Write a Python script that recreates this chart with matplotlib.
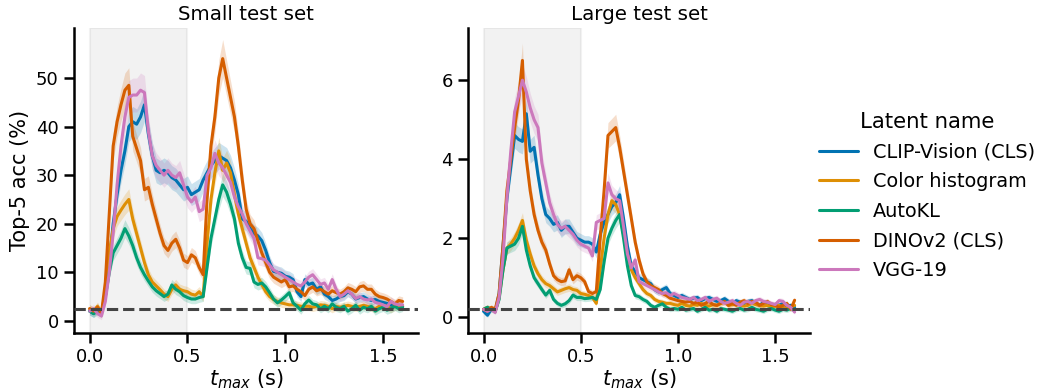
import numpy as np
import matplotlib
import matplotlib.pyplot as plt
import seaborn as sns

matplotlib.use('Agg')

# t_max grid (s)
t = np.round(np.arange(0, 1.601, 0.02), 2)

latent_names = ['CLIP-Vision (CLS)', 'Color histogram', 'AutoKL', 'DINOv2 (CLS)', 'VGG-19']
colors = ['#0173B2', '#DE8F05', '#029E73', '#D55E00', '#CC78BC']

# Small test set, top-5 accuracy (%)
clip_small = [2.0, 1.5, 2.5, 1.8, 5, 12, 20, 26, 31, 35, 40, 41, 40.5, 42, 44.5, 38.5, 34, 31, 30.5, 31,
              30.5, 29.5, 29, 28, 27, 27.5, 26, 26.5, 27, 29, 30.5, 32, 33, 34, 33.5, 33, 31.5, 29, 26, 21,
              20.5, 19, 18, 17.5, 16.5, 14.5, 12, 10.2, 10, 9.8, 9.2, 9, 8.5, 6, 5, 8.5, 7.5, 7.8, 6.5, 7,
              5.5, 5, 4.2, 4.5, 5, 5.2, 6, 5.5, 4.5, 4.8, 5, 4.5, 4.2, 4.4, 4, 3.8, 3.6, 3.2, 3, 3.2, 3]
colorhist_small = [2.5, 2, 3, 1.5, 6, 14, 19, 21.5, 22.8, 24, 25, 21, 18, 15, 12, 9.5, 8, 7.2, 6.4, 5.5,
                   5, 6.5, 7.4, 6.5, 6.2, 6, 5.5, 5.3, 6, 5, 16, 25, 30.5, 35, 31, 32.5, 30.5, 26, 22, 19,
                   16, 13, 11, 9, 7.5, 6, 5, 4.4, 4, 3.7, 3.5, 3.3, 3.3, 3.2, 3, 3, 3, 2.8, 3, 3.3,
                   3.2, 3, 2.5, 3, 2.8, 3, 3.2, 3, 2.8, 3, 3.2, 3, 2.8, 2.5, 3, 3.2, 3, 2.5, 3, 3, 3]
autokl_small = [2, 1.5, 2, 1.5, 5, 10, 14, 15.5, 17, 19, 17.5, 15.5, 13, 11, 9.5, 8.2, 7, 6.2, 5.6, 5,
                5.5, 7.4, 6.5, 6, 5.2, 4.8, 4.5, 4.5, 4.8, 5, 11, 17, 21, 25, 28, 26.5, 24, 21, 16, 13,
                11, 10.8, 8, 7.5, 7.8, 7, 5.8, 4.5, 3.7, 4.3, 5, 5.8, 3.7, 3, 2.2, 3.5, 4.3, 3.5, 3.3, 2.5,
                3, 2.5, 3.5, 2.8, 2.5, 3, 2, 2.5, 3.2, 2.2, 2.8, 2.5, 3, 2, 2.5, 2.8, 2.2, 2.5, 3, 2.5, 2.8]
dino_small = [2.5, 2.0, 2.8, 1.5, 8, 22, 36, 41, 44.5, 47.5, 48.5, 38, 35.5, 33, 27, 27.5, 24, 21, 18, 15.5,
              14.5, 16, 16.8, 15, 12.5, 12, 13.6, 13, 11, 9.5, 25, 36, 42, 50, 54, 50, 46, 42, 36, 29,
              23, 20, 19, 16.5, 14, 12, 10, 9, 8.5, 8, 8.5, 7, 7.2, 6.5, 6, 5.2, 6.5, 7, 6.2, 6.5,
              6, 5.5, 6.2, 5.8, 5.5, 6, 6.8, 6.5, 6, 7, 7.2, 6.5, 6.5, 5.5, 5, 4.8, 4.5, 4, 3.5, 4.2, 4]
vgg_small = [2, 2.5, 1.5, 1, 4, 10, 18, 28, 36, 42, 46, 46.5, 46.5, 47.5, 47, 39, 34, 32, 31, 30,
             31, 30, 29.5, 30.5, 28, 25.5, 24.5, 25.5, 22.5, 23, 30, 31.5, 34.5, 32.5, 31.5, 30, 28.5, 25.5, 23.5, 22,
             20, 18.5, 17, 13, 12.8, 12.5, 11.5, 10.5, 10, 9.5, 9, 8.5, 8, 7.5, 7.2, 8, 9, 9.5, 8.5, 7.5,
             7.8, 6.5, 8.5, 6.5, 5, 5.5, 6.2, 5.5, 4.6, 5, 4.5, 4.3, 4.5, 3.8, 3.6, 3.3, 2.9, 4, 3.5, 3.3, 3.3]

# Large test set, top-5 accuracy (%)
clip_large = [0.15, 0.05, 0.2, 0.15, 0.6, 1.8, 3.0, 3.8, 4.6, 4.5, 4.45, 5.15, 4.2, 4.3, 3.6, 3.0, 2.6, 2.5, 2.35, 2.4,
              2.2, 2.3, 2.3, 2.15, 2.0, 1.95, 1.9, 1.9, 1.85, 1.65, 2.1, 2.4, 2.6, 2.8, 2.9, 3.1, 2.5, 1.8, 1.3, 1.15,
              1.0, 0.95, 0.9, 0.85, 0.7, 0.64, 0.7, 0.75, 0.6, 0.55, 0.5, 0.55, 0.5, 0.45, 0.48, 0.5, 0.42, 0.47, 0.5, 0.45,
              0.4, 0.42, 0.47, 0.4, 0.35, 0.42, 0.38, 0.35, 0.4, 0.42, 0.35, 0.3, 0.38, 0.35, 0.3, 0.32, 0.3, 0.35, 0.28, 0.3, 0.25]
colorhist_large = [0.2, 0.25, 0.2, 0.15, 0.5, 1.2, 1.75, 1.85, 2.0, 2.2, 2.45, 1.95, 1.6, 1.3, 1.1, 0.95, 0.85, 0.8, 0.72, 0.64,
                   0.68, 0.72, 0.75, 0.7, 0.68, 0.6, 0.58, 0.55, 0.5, 0.35, 1.2, 2.0, 2.6, 2.95, 2.85, 2.6, 2.1, 1.6, 1.2, 1.0,
                   0.85, 0.7, 0.6, 0.55, 0.45, 0.4, 0.38, 0.35, 0.35, 0.32, 0.3, 0.35, 0.3, 0.28, 0.32, 0.3, 0.35, 0.3, 0.28, 0.32,
                   0.3, 0.35, 0.38, 0.3, 0.32, 0.35, 0.3, 0.28, 0.3, 0.35, 0.32, 0.3, 0.28, 0.3, 0.25, 0.28, 0.3, 0.25, 0.22, 0.25, 0.3]
autokl_large = [0.2, 0.25, 0.2, 0.15, 0.45, 1.2, 1.75, 1.8, 1.85, 2.0, 2.3, 1.7, 1.3, 1.0, 0.85, 0.7, 0.56, 0.68, 0.45, 0.35,
                0.3, 0.34, 0.42, 0.56, 0.5, 0.5, 0.47, 0.48, 0.5, 0.45, 0.7, 1.4, 2.0, 2.25, 2.45, 2.6, 2.0, 1.3, 0.8, 0.55,
                0.52, 0.45, 0.4, 0.3, 0.25, 0.3, 0.34, 0.25, 0.2, 0.22, 0.2, 0.25, 0.18, 0.2, 0.22, 0.15, 0.2, 0.25, 0.18, 0.2,
                0.15, 0.22, 0.2, 0.18, 0.15, 0.2, 0.22, 0.18, 0.2, 0.25, 0.2, 0.18, 0.15, 0.2, 0.22, 0.18, 0.15, 0.2, 0.18, 0.22, 0.2]
dino_large = [0.2, 0.15, 0.25, 0.2, 0.6, 1.8, 3.2, 4.0, 4.8, 5.5, 6.5, 4.0, 3.2, 2.6, 2.2, 1.9, 1.7, 1.35, 1.05, 0.95,
              0.9, 0.92, 1.2, 0.95, 1.05, 1.0, 0.9, 0.65, 0.6, 0.65, 2.0, 3.2, 4.6, 4.7, 4.8, 4.3, 3.7, 3.1, 2.5, 1.9,
              1.45, 1.1, 0.9, 0.8, 0.75, 0.7, 0.6, 0.55, 0.48, 0.45, 0.42, 0.4, 0.38, 0.4, 0.35, 0.38, 0.3, 0.35, 0.4, 0.32,
              0.3, 0.35, 0.4, 0.3, 0.35, 0.3, 0.38, 0.42, 0.35, 0.4, 0.38, 0.3, 0.35, 0.4, 0.32, 0.3, 0.25, 0.3, 0.35, 0.2, 0.43]
vgg_large = [0.2, 0.15, 0.2, 0.12, 0.5, 1.5, 3.0, 4.2, 5.2, 5.6, 6.0, 5.7, 5.3, 5.0, 4.8, 3.9, 3.4, 2.9, 2.6, 2.35,
             2.25, 2.3, 2.2, 2.1, 1.95, 1.85, 1.8, 1.75, 1.55, 2.4, 2.45, 2.5, 3.4, 3.1, 3.0, 2.95, 2.3, 1.6, 1.25, 1.45,
             0.9, 0.85, 0.8, 0.75, 0.7, 0.64, 0.6, 0.62, 0.55, 0.6, 0.55, 0.5, 0.48, 0.45, 0.5, 0.42, 0.45, 0.5, 0.4, 0.45,
             0.48, 0.4, 0.35, 0.38, 0.42, 0.35, 0.3, 0.38, 0.4, 0.35, 0.42, 0.45, 0.4, 0.38, 0.35, 0.32, 0.42, 0.4, 0.3, 0.25, 0.13]

small_set = [clip_small, colorhist_small, autokl_small, dino_small, vgg_small]
large_set = [clip_large, colorhist_large, autokl_large, dino_large, vgg_large]

chance_small = 2.5
chance_large = 0.21


def draw_panel(ax, series, chance, title, ci_base, ci_rel):
    ax.axvspan(0, 0.5, color='grey', alpha=0.1, zorder=0)
    for vals, name, c in zip(series, latent_names, colors):
        vals = np.asarray(vals)
        err = ci_base + ci_rel * vals  # rough CI width
        ax.fill_between(t, vals - err, vals + err, color=c, alpha=0.2, linewidth=0)
        ax.plot(t, vals, color=c, label=name)
    ax.axhline(chance, ls='--', color='#444444', zorder=5)
    ax.set_title(title, fontsize=14.3)
    ax.set_xlabel(r'$t_{max}$ (s)', fontsize=15, labelpad=1)
    ax.set_xlim(-0.08, 1.68)
    ax.set_xticks([0.0, 0.5, 1.0, 1.5])
    sns.despine(ax=ax)


sns.set_theme(context='talk', style='ticks')
plt.rcParams['font.family'] = ['DejaVu Sans']
for key in ['text.color', 'axes.labelcolor', 'xtick.color', 'ytick.color', 'axes.edgecolor']:
    plt.rcParams[key] = 'black'
plt.rcParams.update({
    'xtick.labelsize': 13, 'ytick.labelsize': 13,
    'lines.linewidth': 2.2, 'axes.linewidth': 1.8,
    'xtick.major.width': 1.8, 'ytick.major.width': 1.8,
    'xtick.major.size': 7.5, 'ytick.major.size': 7.5,
})

fig = plt.figure(figsize=(10.4, 3.92), dpi=100)
ax1 = fig.add_axes([0.0712, 0.1505, 0.331, 0.778])
ax2 = fig.add_axes([0.450, 0.1505, 0.329, 0.778])

draw_panel(ax1, small_set, chance_small, 'Small test set', 0.7, 0.06)
ax1.set_ylim(-2.5, 60.3)
ax1.set_yticks([0, 10, 20, 30, 40, 50])
ax1.set_ylabel('Top-5 acc (%)', fontsize=15)

draw_panel(ax2, large_set, chance_large, 'Large test set', 0.05, 0.06)
ax2.set_ylim(-0.4, 7.32)
ax2.set_yticks([0, 2, 4, 6])

handles, labels = ax1.get_legend_handles_labels()
fig.legend(handles, labels, title='Latent name', loc='center left',
           bbox_to_anchor=(0.78, 0.5), frameon=False, fontsize=13.9,
           title_fontsize=15.3, labelspacing=0.55, borderaxespad=0)

fig.savefig('out.png', dpi=100)
